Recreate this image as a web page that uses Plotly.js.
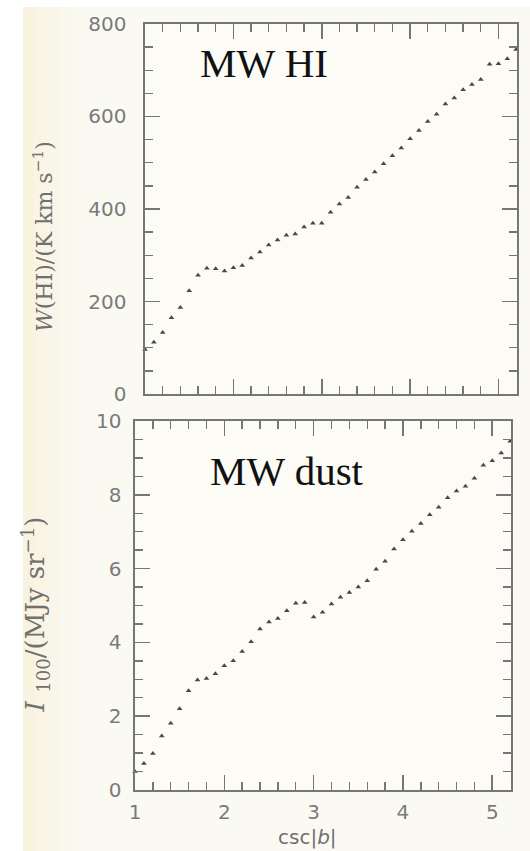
<!DOCTYPE html>
<html>
<head>
<meta charset="utf-8">
<script src="https://cdn.plot.ly/plotly-3.0.1.min.js"></script>
<style>
  html, body { margin: 0; padding: 0; background: #fbfaf2; }
  #chart { width: 530px; height: 851px; }
</style>
</head>
<body>
<div id="chart"></div>
<script>
// csc|b| sample points (shared by both panels)
const cscB = [1.0, 1.1, 1.2, 1.3, 1.4, 1.5, 1.6, 1.7, 1.8, 1.9,
              2.0, 2.1, 2.2, 2.3, 2.4, 2.5, 2.6, 2.7, 2.8, 2.9,
              3.0, 3.1, 3.2, 3.3, 3.4, 3.5, 3.6, 3.7, 3.8, 3.9,
              4.0, 4.1, 4.2, 4.3, 4.4, 4.5, 4.6, 4.7, 4.8, 4.9,
              5.0, 5.1, 5.2];

// Integrated HI emission W(HI), K km/s
const wHI = [96, 112, 133, 165, 187, 223, 257, 272, 271, 266,
             273, 278, 294, 307, 322, 333, 343, 346, 361, 369,
             369, 393, 411, 425, 447, 464, 480, 498, 515, 532,
             552, 570, 589, 605, 627, 640, 658, 669, 680, 713,
             714, 725, 745];

// 100 micron dust intensity I_100, MJy/sr
const i100 = [0.50, 0.72, 0.99, 1.46, 1.81, 2.20, 2.69, 2.98, 3.02, 3.15,
              3.37, 3.50, 3.75, 4.02, 4.36, 4.55, 4.65, 4.86, 5.06, 5.08,
              4.69, 4.82, 5.04, 5.22, 5.35, 5.50, 5.67, 5.98, 6.20, 6.53,
              6.78, 7.01, 7.22, 7.46, 7.66, 7.92, 8.10, 8.23, 8.45, 8.80,
              8.92, 9.13, 9.45];

// Axis tick values and labels
const xTicks = [1, 2, 3, 4, 5];
const xTickText = ['1', '2', '3', '4', '5'];
const hiTicks = [0, 200, 400, 600, 800];
const hiTickText = ['0', '200', '400', '600', '800'];
const dustTicks = [0, 2, 4, 6, 8, 10];
const dustTickText = ['0', '2', '4', '6', '8', '10'];

const ink = '#767676';
const labelFont = { family: 'DejaVu Sans, sans-serif', size: 20, color: '#7a7a7a' };
const titleFont = { family: 'DejaVu Serif, serif', size: 22, color: '#707070' };
const markerStyle = { symbol: 'triangle-up', size: 5, color: '#484848' };

const traces = [
  { x: cscB, y: wHI, xaxis: 'x', yaxis: 'y', type: 'scatter', mode: 'markers',
    marker: markerStyle, cliponaxis: false, hoverinfo: 'x+y' },
  { x: cscB, y: i100, xaxis: 'x2', yaxis: 'y2', type: 'scatter', mode: 'markers',
    marker: markerStyle, cliponaxis: false, hoverinfo: 'x+y' }
];

function frameAxis(extra) {
  return Object.assign({
    showgrid: false, zeroline: false,
    showline: true, linecolor: ink, linewidth: 1.6,
    mirror: 'allticks', ticks: 'inside', ticklen: 15, tickwidth: 1.6, tickcolor: ink,
    tickfont: labelFont, automargin: false, fixedrange: true
  }, extra);
}

// soft warm tint fading in from the left edge of the sheet
const tintBands = [
  [23, 34, 0.55], [34, 46, 0.42], [46, 58, 0.30], [58, 70, 0.18], [70, 84, 0.08]
].map(([a, b, op]) => ({
  type: 'rect', xref: 'paper', yref: 'paper', x0: a / 530, x1: b / 530, y0: 0, y1: 0.9918,
  fillcolor: '#f5ecd0', opacity: op, line: { width: 0 }, layer: 'below'
}));

const layout = {
  width: 530, height: 851,
  margin: { l: 0, r: 0, t: 0, b: 0 },
  paper_bgcolor: '#fbfaf2',
  plot_bgcolor: '#fcfbf5',
  showlegend: false,
  xaxis: frameAxis({
    domain: [0.2736, 0.9755], range: [1, 5.21], anchor: 'y',
    tickmode: 'array', tickvals: xTicks, ticktext: xTickText, showticklabels: false,
    minor: { dtick: 0.2, tick0: 1, ticks: 'inside', ticklen: 8, tickwidth: 1.4, tickcolor: ink }
  }),
  yaxis: frameAxis({
    domain: [0.5370, 0.9718], range: [0, 800], anchor: 'x',
    tickmode: 'array', tickvals: hiTicks, ticktext: hiTickText, ticklabelstandoff: 13,
    minor: { dtick: 50, tick0: 0, ticks: 'inside', ticklen: 8, tickwidth: 1.4, tickcolor: ink }
  }),
  xaxis2: frameAxis({
    domain: [0.2547, 0.9642], range: [1, 5.21], anchor: 'y2',
    tickmode: 'array', tickvals: xTicks, ticktext: xTickText, ticklabelstandoff: 3,
    minor: { dtick: 0.2, tick0: 1, ticks: 'inside', ticklen: 8, tickwidth: 1.4, tickcolor: ink }
  }),
  yaxis2: frameAxis({
    domain: [0.0717, 0.5053], range: [0, 10], anchor: 'x2',
    tickmode: 'array', tickvals: dustTicks, ticktext: dustTickText, ticklabelstandoff: 8,
    minor: { dtick: 0.5, tick0: 0, ticks: 'inside', ticklen: 8, tickwidth: 1.4, tickcolor: ink }
  }),
  shapes: [
    // white page margins around the cream sheet
    { type: 'rect', xref: 'paper', yref: 'paper', x0: 0, x1: 0.0434, y0: 0, y1: 1,
      fillcolor: '#ffffff', line: { width: 0 }, layer: 'below' },
    { type: 'rect', xref: 'paper', yref: 'paper', x0: 0, x1: 1, y0: 0.9918, y1: 1,
      fillcolor: '#ffffff', line: { width: 0 }, layer: 'below' }
  ].concat(tintBands),
  annotations: [
    { text: 'MW HI', xref: 'paper', yref: 'paper', x: 0.498, y: 0.926,
      xanchor: 'center', yanchor: 'middle', showarrow: false,
      font: { family: 'Liberation Serif, Times New Roman, serif', size: 41, color: '#111111' } },
    { text: 'MW dust', xref: 'paper', yref: 'paper', x: 0.5415, y: 0.4465,
      xanchor: 'center', yanchor: 'middle', showarrow: false,
      font: { family: 'Liberation Serif, Times New Roman, serif', size: 41, color: '#111111' } },
    { text: '<i>W</i>(HI)/(K km s<sup>−1</sup>)', xref: 'paper', yref: 'paper',
      x: 0.081, y: 0.7227, xanchor: 'center', yanchor: 'middle', textangle: -90, showarrow: false,
      font: titleFont },
    { text: '<i>I</i>\u00A0<sub>100</sub>/(MJy sr<sup>−1</sup>)', xref: 'paper', yref: 'paper',
      x: 0.066, y: 0.2780, xanchor: 'center', yanchor: 'middle', textangle: -90, showarrow: false,
      font: Object.assign({}, titleFont, { size: 26 }) },
    { text: 'csc|<i>b</i>|', xref: 'paper', yref: 'paper', x: 0.581, y: 0.0,
      xanchor: 'center', yanchor: 'bottom', showarrow: false,
      font: { family: 'DejaVu Sans, sans-serif', size: 20, color: '#707070' } }
  ]
};

Plotly.newPlot('chart', traces, layout, { staticPlot: true, displayModeBar: false });
</script>
</body>
</html>
